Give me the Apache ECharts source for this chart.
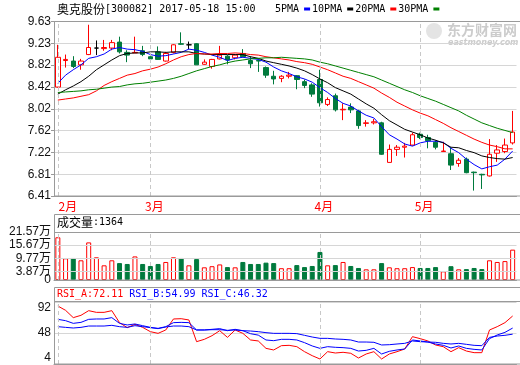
<!DOCTYPE html>
<html><head><meta charset="utf-8">
<script src="https://cdn.jsdelivr.net/npm/echarts@6/dist/echarts.min.js"></script>
<style>html,body{margin:0;padding:0;background:#fff}#c{width:520px;height:365px}</style>
</head><body><div id="c"></div>
<script>
// ---------- data ----------
const dates = ['2017-02-13','2017-02-14','2017-02-15','2017-02-16','2017-02-17','2017-02-20','2017-02-21','2017-02-22','2017-02-23','2017-02-24','2017-02-27','2017-02-28',
'2017-03-01','2017-03-02','2017-03-03','2017-03-06','2017-03-07','2017-03-08','2017-03-09','2017-03-10','2017-03-13','2017-03-14','2017-03-15','2017-03-16','2017-03-17','2017-03-20','2017-03-21','2017-03-22','2017-03-23','2017-03-24','2017-03-27','2017-03-28','2017-03-29','2017-03-30',
'2017-04-12','2017-04-13','2017-04-14','2017-04-17','2017-04-18','2017-04-19','2017-04-20','2017-04-21','2017-04-24','2017-04-25','2017-04-26','2017-04-27','2017-04-28',
'2017-05-02','2017-05-03','2017-05-04','2017-05-05','2017-05-08','2017-05-09','2017-05-10','2017-05-11','2017-05-12','2017-05-15','2017-05-16','2017-05-17','2017-05-18'];
const opens  = [8.42,8.91,8.90,8.83,9.02,9.14,9.13,9.14,9.25,9.06,9.05,9.09,8.98,9.07,8.90,9.06,9.22,9.20,9.22,8.84,8.80,8.94,8.99,8.96,9.04,8.91,8.91,8.78,8.62,8.58,8.62,8.63,8.52,8.46,8.56,8.10,8.26,8.00,8.05,7.98,7.75,7.76,7.76,7.03,7.27,7.31,7.35,7.55,7.49,7.40,7.23,7.19,7.01,7.09,6.85,6.81,6.78,7.20,7.23,7.39];
const closes = [8.97,8.93,8.80,8.90,9.15,9.14,9.15,9.24,9.07,9.01,9.06,9.02,8.94,8.93,9.04,9.20,9.21,9.20,8.83,8.88,8.93,9.01,8.92,9.01,8.98,8.85,8.90,8.64,8.57,8.62,8.64,8.56,8.45,8.29,8.13,8.19,8.00,8.01,8.00,7.71,7.76,7.78,7.18,7.27,7.31,7.33,7.54,7.49,7.43,7.31,7.24,6.98,7.07,6.84,6.84,6.80,7.18,7.26,7.35,7.59];
const lows   = [8.41,8.78,8.77,8.74,9.01,9.01,9.09,9.10,9.04,8.88,9.05,8.99,8.93,8.92,8.89,9.04,9.20,9.12,8.83,8.83,8.76,8.93,8.84,8.93,8.97,8.77,8.70,8.59,8.47,8.51,8.58,8.38,8.40,8.24,8.06,8.07,7.97,7.81,7.94,7.65,7.69,7.73,7.17,7.03,7.15,7.12,7.34,7.46,7.29,7.27,7.23,6.89,6.95,6.83,6.51,6.54,6.77,7.04,7.20,7.36];
const highs  = [9.20,9.02,8.99,8.94,9.57,9.28,9.29,9.29,9.35,9.10,9.35,9.18,9.06,9.17,9.07,9.21,9.43,9.26,9.23,8.93,8.94,9.18,9.01,9.03,9.12,8.99,8.93,8.80,8.72,8.64,8.70,8.64,8.56,8.49,8.74,8.23,8.30,8.12,8.12,8.00,7.81,7.83,7.78,7.36,7.35,7.39,7.58,7.58,7.54,7.44,7.41,7.31,7.11,7.12,6.86,6.82,7.46,7.35,7.47,7.98];
// volume in 万
const volumes = [19.2,9.75,9.9,8.85,16.9,10.2,6.6,8.85,7.6,7.2,10.6,7.2,6.3,7.2,8.1,10.2,9.9,6.6,9.4,5.7,6.2,7.0,5.8,5.7,8.1,7.2,7.2,7.8,7.6,5.3,5.3,6.7,5.8,6.3,12.6,6.6,6.7,8.1,6.3,5.4,4.8,4.8,7.6,5.7,5.3,5.3,5.8,5.4,5.4,5.8,3.9,6.2,4.8,4.9,5.4,4.9,8.85,8.1,8.5,13.64];
const ma5  = [8.49,8.64,8.74,8.83,8.95,8.98,9.03,9.12,9.15,9.12,9.11,9.08,9.02,8.99,9.00,9.03,9.06,9.12,9.10,9.06,9.01,8.97,8.91,8.95,8.97,8.95,8.93,8.88,8.79,8.72,8.67,8.61,8.57,8.51,8.41,8.32,8.21,8.12,8.07,7.98,7.90,7.85,7.69,7.54,7.46,7.37,7.33,7.39,7.42,7.42,7.40,7.29,7.21,7.09,6.99,6.91,6.95,6.98,7.09,7.24];
const ma10 = [8.29,8.37,8.44,8.52,8.62,8.74,8.83,8.92,9.00,9.04,9.05,9.05,9.07,9.07,9.06,9.07,9.07,9.07,9.04,9.03,9.02,9.02,9.02,9.02,9.02,8.98,8.95,8.90,8.87,8.84,8.81,8.77,8.72,8.65,8.57,8.50,8.41,8.35,8.29,8.20,8.11,8.03,7.91,7.80,7.72,7.64,7.59,7.54,7.48,7.44,7.39,7.31,7.30,7.25,7.21,7.15,7.12,7.10,7.09,7.12];
const ma20 = [8.18,8.20,8.22,8.25,8.28,8.35,8.45,8.52,8.58,8.64,8.67,8.72,8.75,8.79,8.85,8.92,8.98,9.02,9.04,9.03,9.03,9.04,9.04,9.05,9.04,9.02,9.01,8.98,8.96,8.94,8.92,8.89,8.87,8.84,8.79,8.74,8.68,8.62,8.58,8.52,8.46,8.40,8.31,8.23,8.14,8.07,8.00,7.94,7.89,7.82,7.75,7.67,7.60,7.53,7.46,7.40,7.35,7.32,7.28,7.28];
const ma30 = [8.32,8.33,8.34,8.35,8.37,8.38,8.40,8.42,8.43,8.46,8.48,8.49,8.51,8.53,8.55,8.58,8.62,8.67,8.72,8.76,8.80,8.83,8.87,8.90,8.92,8.94,8.95,8.96,8.96,8.97,8.96,8.95,8.94,8.92,8.88,8.85,8.81,8.77,8.73,8.69,8.65,8.61,8.55,8.49,8.43,8.37,8.32,8.26,8.21,8.16,8.10,8.04,7.98,7.90,7.83,7.76,7.71,7.66,7.62,7.58];
const rsiA = [86.3,80.2,69.8,73.1,79.7,77.3,77.3,79.7,62.7,55.6,60.3,56.0,49.9,47.5,52.3,67.9,68.3,66.5,35.7,39.0,44.2,51.3,41.8,52.3,47.5,38.1,36.7,26.2,23.9,30.0,30.5,28.6,21.5,15.8,11.1,21.5,19.6,20.6,19.2,12.5,18.2,21.5,11.1,18.2,21.5,25.3,42.8,40.0,36.7,31.0,28.6,21.5,27.2,22.4,20.1,20.1,52.3,57.0,62.7,72.11];
const rsiB = [67.4,65.5,61.7,63.1,67.4,67.9,67.9,69.8,61.7,59.4,60.8,58.4,56.0,54.6,57.0,62.7,63.1,62.7,52.3,52.3,53.2,54.2,51.3,53.2,51.3,47.0,45.0,38.1,37.1,39.0,39.0,38.1,34.3,29.6,26.2,28.6,27.7,27.2,26.2,22.4,23.4,26.2,18.2,22.0,23.9,25.3,38.1,36.7,35.2,32.4,30.5,26.7,29.6,26.2,24.8,23.9,40.0,45.2,48.9,54.99];
const rsiC = [57.0,56.0,55.1,56.0,57.9,57.9,57.9,58.9,57.0,56.0,58.4,57.0,55.6,54.2,56.5,57.9,57.9,57.0,52.3,52.3,52.7,52.7,51.8,52.3,51.3,50.8,49.9,48.5,47.5,47.5,47.5,47.1,44.7,42.3,40.4,40.4,39.5,39.0,38.1,35.2,35.2,34.8,31.0,31.4,32.4,33.3,36.7,35.7,35.2,34.8,33.3,32.4,33.3,31.9,30.5,30.0,41.8,43.7,44.7,46.32];
// tick labels
const priceLabels = ['6.41','6.81','7.22','7.62','8.02','8.42','8.82','9.23','9.63'];
const volTicks = [0,3.87,9.77,15.67,21.57];
const rsiTicks = [4,48,92];

// ---------- styling ----------
const RED='#ff0000', GREEN='#007a3d', BLUE='#0000ff', MAGREEN='#008000';
const MONO="'DejaVu Sans Mono', monospace";
const CJK="'Noto Sans CJK SC', sans-serif";
const SANS="'Liberation Sans', 'Noto Sans CJK SC', Arial, sans-serif";
const FRAME='#9a9a9a', GRIDC='#d6d6d6', DASH='#c8c8c8';

const priceMin = +priceLabels[0], priceMax = +priceLabels[priceLabels.length-1];
const priceStep = (priceMax - priceMin) / (priceLabels.length - 1);
const volMin = volTicks[0], volMax = volTicks[volTicks.length-1];

const candles = dates.map((d,i)=>[opens[i],closes[i],lows[i],highs[i]]);
const volData = volumes.map((v,i)=>{
  const up = closes[i] >= opens[i];
  return {value:v, itemStyle: up ? {color:'#fff',borderColor:RED,borderWidth:1} : {color:GREEN,borderColor:GREEN,borderWidth:1}};
});
const monthStarts = dates.map((d,i)=> (i===0 || d.slice(5,7)!==dates[i-1].slice(5,7)) ? i : -1).filter(i=>i>=0);
const monthLines = monthStarts.map(i=>({xAxis: dates[i]}));

const L=54, W=462.5;
const grids = [
  {left:L, top:21.5, width:W, height:174.5},
  {left:L, top:232, width:W, height:48},
  {left:L, top:302, width:W, height:62}
];
function xAx(k){
  const base = {type:'category', gridIndex:k, data:dates, boundaryGap:true,
    axisLine:{show:true, lineStyle:{color:FRAME}}, axisTick:{show:false}, splitLine:{show:false},
    axisLabel:{show:false}};
  if(k===0){
    base.axisLabel = {show:true, interval:(idx)=>monthStarts.includes(idx), margin:4,
      formatter:(v,idx)=>{ const m = parseInt(v.slice(5,7),10)+'月'; return idx===0 ? '{f|'+m+'}' : '{o|'+m+'}'; },
      rich:{ f:{color:RED,fontFamily:CJK,fontSize:12,padding:[0,0,0,20]}, o:{color:RED,fontFamily:CJK,fontSize:12,padding:[0,0,0,8]} } };
  }
  return base;
}
const guide = (k, extra) => ({
  type:'line', name:'guide'+k, xAxisIndex:k, yAxisIndex:k, data:[], z:1, silent:true,
  markLine:{silent:true, symbol:['none','none'], animation:false, label:{show:false},
    lineStyle:{color:DASH, type:[4,3], width:1},
    data: monthLines.concat(extra||[])}
});
const volLabelFmt = (v)=> v===0 ? '0' : v.toFixed(2)+'万';

const option = {
  animation:false,
  backgroundColor:'#fff',
  grid: grids,
  legend:{data:['5PMA','10PMA','20PMA','30PMA'], left:275, top:4, padding:0, align:'right', icon:'rect',
    itemWidth:6, itemHeight:3, itemGap:2, selectedMode:false,
    textStyle:{fontFamily:MONO, fontSize:10, color:'#000'}},
  xAxis:[xAx(0), xAx(1), xAx(2)],
  yAxis:[
    {type:'value', gridIndex:0, min:priceMin, max:priceMax, interval:priceStep, scale:true,
     axisLine:{show:true, lineStyle:{color:FRAME}}, axisTick:{show:true, length:3, lineStyle:{color:FRAME}},
     axisLabel:{margin:3, fontSize:12, color:'#111', fontFamily:SANS,
       formatter:(v)=>priceLabels[Math.round((v-priceMin)/priceStep)]},
     splitLine:{show:true, lineStyle:{color:GRIDC}}},
    {type:'value', gridIndex:1, min:volMin, max:volMax,
     axisLine:{show:true, lineStyle:{color:FRAME}}, axisTick:{show:false},
     axisLabel:{customValues:volTicks.slice(1), margin:3, fontSize:12, color:'#111', fontFamily:SANS,
       showMinLabel:true, showMaxLabel:true, formatter:volLabelFmt},
     splitLine:{show:false}},
    {type:'value', gridIndex:2, min:rsiTicks[0], max:rsiTicks[rsiTicks.length-1], interval:rsiTicks[1]-rsiTicks[0],
     axisLine:{show:true, lineStyle:{color:FRAME}}, axisTick:{show:false},
     axisLabel:{margin:3, fontSize:12, color:'#111', fontFamily:SANS,
       verticalAlignMinLabel:'bottom', verticalAlignMaxLabel:'top'},
     splitLine:{show:true, lineStyle:{color:GRIDC}}},
    // baseline label of the volume panel (same scale, separate so it is not hidden by overlap)
    {type:'value', gridIndex:1, min:volMin, max:volMax, position:'left',
     axisLine:{show:false}, axisTick:{show:false}, splitLine:{show:false},
     axisLabel:{customValues:volTicks.slice(0,1), margin:3, fontSize:12, color:'#111', fontFamily:SANS,
       showMinLabel:true, formatter:volLabelFmt}}
  ],
  series:[
    guide(0),
    guide(1, volTicks.slice(1,-1).map(v=>({yAxis:v, lineStyle:{color:GRIDC,type:'solid'}}))),
    guide(2),
    {type:'candlestick', name:'K', xAxisIndex:0, yAxisIndex:0, data:candles, barWidth:5, z:3,
     itemStyle:{color:'#fff', color0:GREEN, borderColor:RED, borderColor0:GREEN, borderColorDoji:'#000', borderWidth:1}},
    {type:'line', name:'5PMA', xAxisIndex:0, yAxisIndex:0, data:ma5, symbol:'none', z:4, color:BLUE, lineStyle:{width:1,color:BLUE}},
    {type:'line', name:'10PMA', xAxisIndex:0, yAxisIndex:0, data:ma10, symbol:'none', z:4, color:'#000', lineStyle:{width:1,color:'#000'}},
    {type:'line', name:'20PMA', xAxisIndex:0, yAxisIndex:0, data:ma20, symbol:'none', z:4, color:RED, lineStyle:{width:1,color:RED}},
    {type:'line', name:'30PMA', xAxisIndex:0, yAxisIndex:0, data:ma30, symbol:'none', z:4, color:MAGREEN, lineStyle:{width:1,color:MAGREEN}},
    {type:'bar', name:'成交量', xAxisIndex:1, yAxisIndex:1, data:volData, barWidth:5, z:3},
    {type:'line', name:'RSI_A', xAxisIndex:2, yAxisIndex:2, data:rsiA, symbol:'none', z:4, lineStyle:{width:1,color:RED}},
    {type:'line', name:'RSI_B', xAxisIndex:2, yAxisIndex:2, data:rsiB, symbol:'none', z:4, lineStyle:{width:1,color:BLUE}},
    {type:'line', name:'RSI_C', xAxisIndex:2, yAxisIndex:2, data:rsiC, symbol:'none', z:4, lineStyle:{width:1,color:BLUE}}
  ],
  graphic:[
    // panel frames
    {type:'rect', silent:true, z:10, shape:{x:54.5, y:21.5, width:480, height:174.5}, style:{fill:'none', stroke:FRAME, lineWidth:1}},
    {type:'rect', silent:true, z:10, shape:{x:54.5, y:214.5, width:480, height:65.5}, style:{fill:'none', stroke:FRAME, lineWidth:1}},
    {type:'line', silent:true, z:10, shape:{x1:54.5, y1:232.5, x2:520, y2:232.5}, style:{stroke:FRAME, lineWidth:1}},
    {type:'rect', silent:true, z:10, shape:{x:54.5, y:287.5, width:480, height:76.5}, style:{fill:'none', stroke:FRAME, lineWidth:1}},
    {type:'line', silent:true, z:10, shape:{x1:54.5, y1:301.5, x2:520, y2:301.5}, style:{stroke:FRAME, lineWidth:1}},
    // title
    {type:'text', silent:true, left:57, top:3, style:{text:'{c|奥克股份}{a|[300082] 2017-05-18 15:00}',
      rich:{c:{fontFamily:CJK,fontSize:12,fill:'#000'}, a:{fontFamily:MONO,fontSize:10,fill:'#000'}}}},
    // volume header
    {type:'text', silent:true, left:57, top:216, style:{text:'{c|成交量}{a|:'+Math.round(volumes[volumes.length-1]*100)+'}',
      rich:{c:{fontFamily:CJK,fontSize:12,fill:'#000'}, a:{fontFamily:MONO,fontSize:10,fill:'#000'}}}},
    // RSI header
    {type:'text', silent:true, left:57, top:289, style:{
      text:'{r|RSI_A:'+rsiA[rsiA.length-1].toFixed(2)+' }{b|RSI_B:'+rsiB[rsiB.length-1].toFixed(2)+' RSI_C:'+rsiC[rsiC.length-1].toFixed(2)+'}',
      rich:{r:{fontFamily:MONO,fontSize:10,fill:RED}, b:{fontFamily:MONO,fontSize:10,fill:BLUE}}}},
    // watermark
    {type:'circle', silent:true, z:0, shape:{cx:434, cy:31, r:8}, style:{fill:'#e4e4e4'}},
    {type:'text', silent:true, z:0, left:447, top:23, style:{text:'东方财富网', font:"bold 14px 'Noto Sans CJK SC'", fill:'#cccccc'}},
    {type:'text', silent:true, z:0, left:448, top:39, style:{text:'eastmoney.com', font:"italic bold 8px 'DejaVu Sans'", fill:'#cccccc'}}
  ]
};
const chart = echarts.init(document.getElementById('c'));
chart.setOption(option);
</script></body></html>
